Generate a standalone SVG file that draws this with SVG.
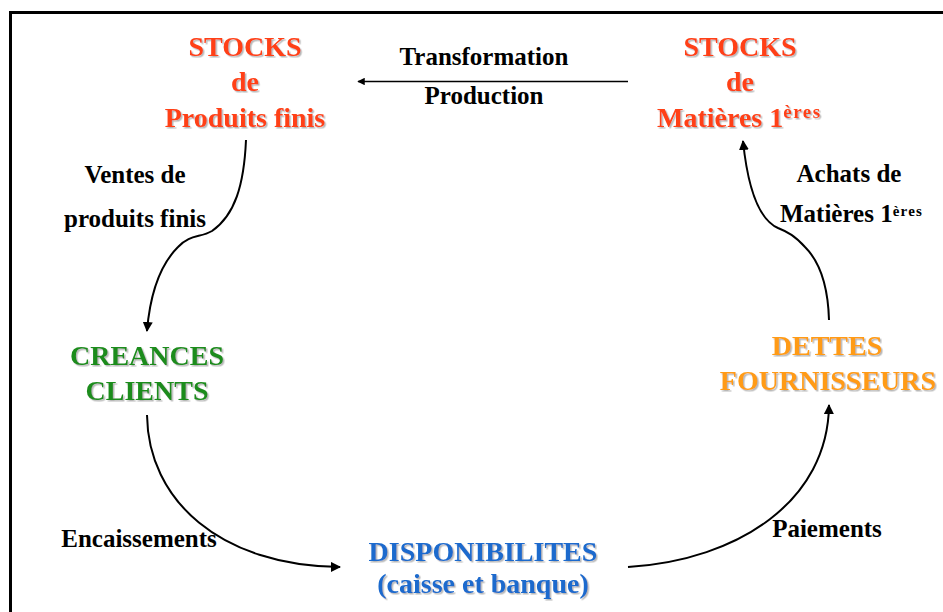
<svg xmlns="http://www.w3.org/2000/svg" width="943" height="612" viewBox="0 0 943 612" font-family="Liberation Serif" font-weight="bold">
<style>
text{text-anchor:middle}
.t{font-size:28px;filter:url(#sh)}
.l{font-size:25px;fill:#000}
.red{fill:#FF3F14}
.green{fill:#1E8C1E}
.blue{fill:#1A6ACD}
.orange{fill:#FF9B14}
.c{fill:none;stroke:#000;stroke-width:2;marker-end:url(#ah)}
</style>
<defs>
<filter id="sh" x="-10%" y="-30%" width="130%" height="160%">
<feDropShadow dx="1.5" dy="1.5" stdDeviation="0.7" flood-color="#888" flood-opacity="0.6"/>
</filter>
<marker id="ah" viewBox="0 0 10 10" refX="9" refY="5" markerWidth="5" markerHeight="5" orient="auto" markerUnits="strokeWidth">
<path d="M0,0 L10,5 L0,10 z" fill="#000"/>
</marker>
</defs>
<rect width="943" height="612" fill="#fff"/>
<path d="M10.5,612 V12.5 H943" fill="none" stroke="#000" stroke-width="3"/>

<g id="stocks-pf" font-family="Liberation Serif">
<text class="t red" x="245" y="56">STOCKS</text>
<text class="t red" x="245" y="91">de</text>
<text class="t red" x="245" y="127">Produits finis</text>
</g>
<g id="stocks-mp" font-family="Liberation Serif">
<text class="t red" x="740" y="56">STOCKS</text>
<text class="t red" x="740" y="91">de</text>
<text class="t red" x="657" y="127" style="text-anchor:start">Matières 1<tspan font-size="19" dy="-9" letter-spacing="1.5">ères</tspan></text>
</g>
<g id="creances" font-family="Liberation Serif">
<text class="t green" x="147" y="365">CREANCES</text>
<text class="t green" x="147" y="400">CLIENTS</text>
</g>
<g id="dispo" font-family="Liberation Serif">
<text class="t blue" x="483" y="561">DISPONIBILITES</text>
<text class="t blue" x="483" y="593">(caisse et banque)</text>
</g>
<g id="dettes" font-family="Liberation Serif">
<text class="t orange" x="827" y="355">DETTES</text>
<text class="t orange" x="828" y="390">FOURNISSEURS</text>
</g>

<g id="connectors">
<path d="M628,81.5 H358" fill="none" stroke="#000" stroke-width="1.5" marker-end="url(#ah)"/>
<path class="c" d="M246,140 C244,185 235,215 212,231 C200,238 190,234 178,247 C160,265 150,295 147,331"/>
<path class="c" d="M147,415 C148,500 220,566 340,567"/>
<path class="c" d="M628,567 C740,560 828,500 829,405"/>
<path class="c" d="M829,320 C828,285 820,262 805,247 C795,236 788,232 778,228 C760,220 748,190 743,141"/>
</g>

<g id="labels" font-family="Liberation Serif">
<text class="l" x="484" y="65">Transformation</text>
<text class="l" x="484" y="104">Production</text>
<text class="l" x="135" y="183">Ventes de</text>
<text class="l" x="135" y="227">produits finis</text>
<text class="l" x="849" y="182">Achats de</text>
<text class="l" x="780" y="222" font-size="23" style="text-anchor:start">Matières 1<tspan font-size="15" dy="-6" letter-spacing="1.2">ères</tspan></text>
<text class="l" x="139" y="547">Encaissements</text>
<text class="l" x="827" y="537">Paiements</text>
</g>
</svg>
